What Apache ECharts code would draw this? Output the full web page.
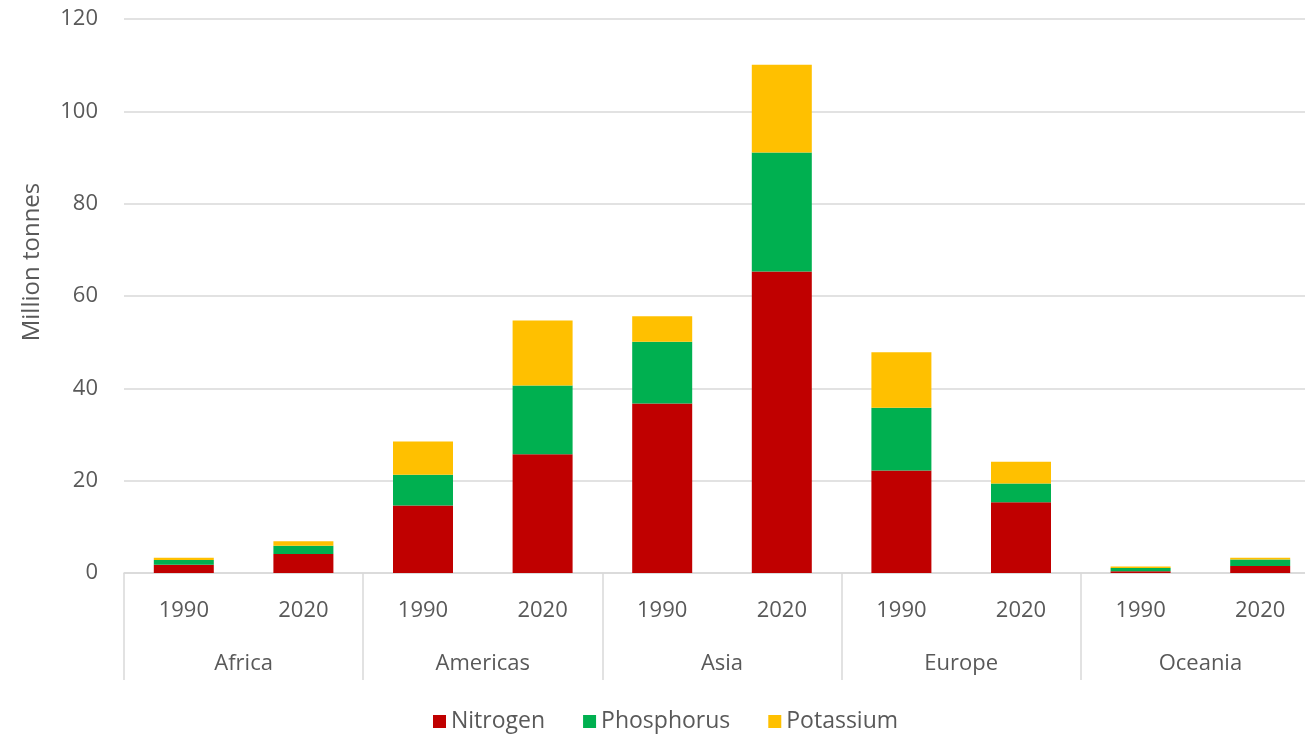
<!DOCTYPE html>
<html>
<head>
<meta charset="utf-8">
<script src="https://cdn.jsdelivr.net/npm/echarts@6/dist/echarts.min.js"></script>
<style>
  html, body { margin: 0; padding: 0; background: #fff; }
  #chart { width: 1305px; height: 734px; }
</style>
</head>
<body>
<div id="chart"></div>
<script>
// data (million tonnes)
const years = ['1990', '2020', '1990', '2020', '1990', '2020', '1990', '2020', '1990', '2020']
const regions = ['Africa', 'Americas', 'Asia', 'Europe', 'Oceania']
const nitrogen = [1.8, 4.1, 14.6, 25.7, 36.7, 65.3, 22.2, 15.3, 0.4, 1.5]
const phosphorus = [1.0, 1.8, 6.7, 14.9, 13.4, 25.8, 13.6, 4.1, 0.7, 1.4]
const potassium = [0.5, 1.0, 7.2, 14.1, 5.5, 19.0, 12.0, 4.7, 0.3, 0.4]
const yTicks = [0, 20, 40, 60, 80, 100, 120]

const textColor = '#595959'
const font = 'Open Sans'

const chart = echarts.init(document.getElementById('chart'))

const makeSeries = (name, data, color) => ({
  name: name,
  type: 'bar',
  stack: 'total',
  barWidth: 60,
  data: data,
  itemStyle: { color: color },
  emphasis: { disabled: true }
})

const option = {
  animation: false,
  textStyle: { fontFamily: font },
  // plot runs a little past the right edge, as in the cropped original
  grid: { left: 124, top: 19, right: -15, bottom: 161, outerBoundsMode: 'none' },
  legend: {
    left: 428,
    bottom: -4,
    icon: 'rect',
    itemWidth: 13,
    itemHeight: 13,
    itemGap: 38,
    textStyle: { color: textColor, fontSize: 23, fontFamily: font },
    data: ['Nitrogen', 'Phosphorus', 'Potassium']
  },
  xAxis: [
    {
      type: 'category',
      data: years,
      position: 'bottom',
      axisLine: { lineStyle: { color: '#d9d9d9', width: 1.5 } },
      axisTick: { show: false },
      axisLabel: { color: textColor, fontSize: 22, margin: 27, fontFamily: font }
    },
    {
      type: 'category',
      data: regions,
      position: 'bottom',
      axisLine: { show: false },
      axisTick: { show: true, length: 107, lineStyle: { color: '#d9d9d9', width: 1.5 } },
      axisLabel: { color: textColor, fontSize: 22, margin: 80, fontFamily: font }
    }
  ],
  yAxis: {
    type: 'value',
    min: yTicks[0],
    max: yTicks[yTicks.length - 1],
    interval: 20,
    name: 'Million tonnes',
    nameLocation: 'middle',
    nameGap: 80,
    nameRotate: 90,
    nameTextStyle: { color: textColor, fontSize: 24, fontFamily: font, padding: [0, 0, 0, 68] },
    axisLine: { show: false },
    axisTick: { show: false },
    axisLabel: { color: textColor, fontSize: 22, margin: 26, fontFamily: font },
    splitLine: { lineStyle: { color: '#d9d9d9', width: 1.5 } }
  },
  series: [
    makeSeries('Nitrogen', nitrogen, '#c00000'),
    makeSeries('Phosphorus', phosphorus, '#00b050'),
    makeSeries('Potassium', potassium, '#ffc000')
  ]
}

chart.setOption(option)
</script>
</body>
</html>
